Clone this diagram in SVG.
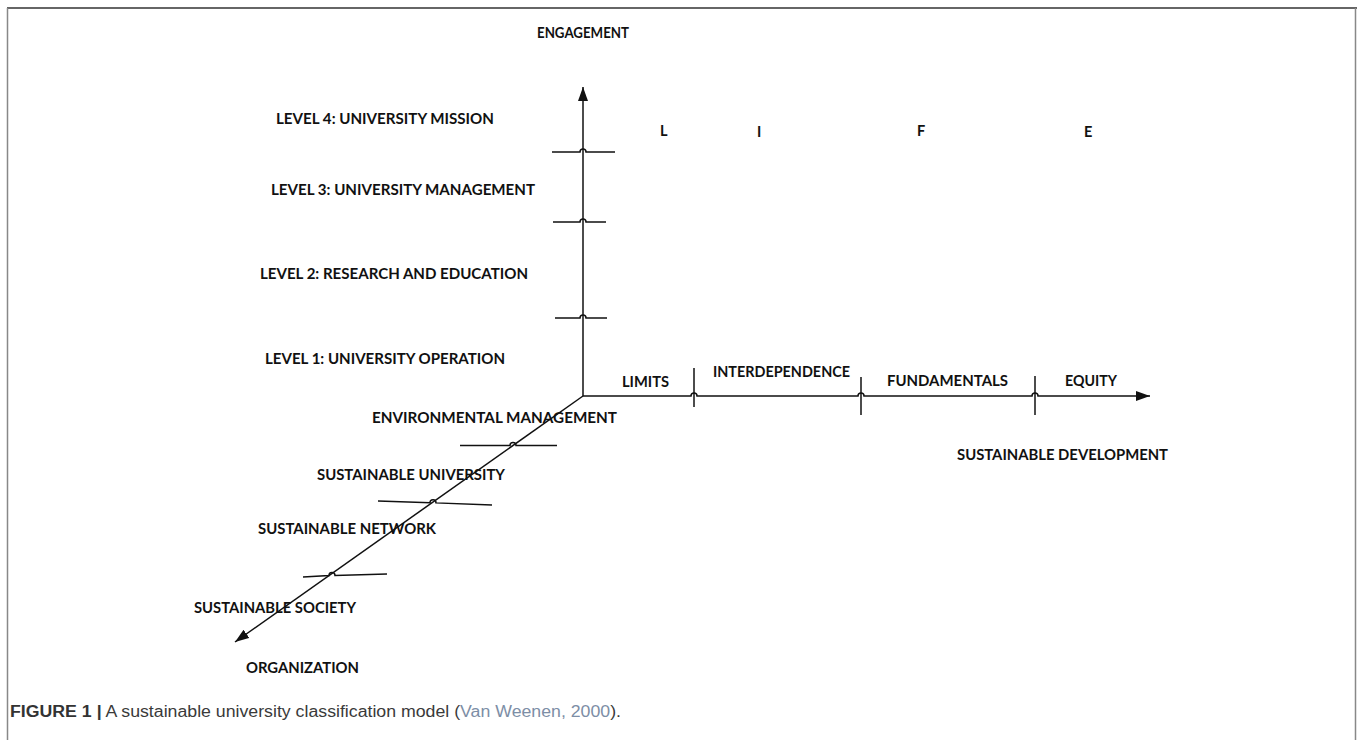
<svg xmlns="http://www.w3.org/2000/svg" width="1357" height="740" viewBox="0 0 1357 740">
  <style>
    .lbl { font-family: Lato, "Open Sans", "Liberation Sans", sans-serif; font-weight: 700; font-size: 14.5px; fill: #111; }
    .ax { fill: none; stroke: #111; stroke-width: 1.5; }
    .cap { font-family: "Liberation Sans", Arial, sans-serif; font-size: 16px; fill: #3a3a3a; }
    .cap-b { font-weight: 700; fill: #333; }
    .cap-ref { fill: #7d8ea6; }
  </style>
  <defs>
    <marker id="arrow" markerUnits="userSpaceOnUse" markerWidth="16" markerHeight="12" refX="14" refY="5" orient="auto">
      <path d="M0,0 L14,5 L0,10 z" fill="#111"/>
    </marker>
  </defs>

  <rect width="1357" height="740" fill="#fff"/>

  <!-- frame -->
  <line x1="7" y1="8" x2="1357" y2="8" stroke="#333" stroke-width="1.5"/>
  <line x1="7.5" y1="8" x2="7.5" y2="740" stroke="#888" stroke-width="1.5"/>
  <line x1="1355.5" y1="8" x2="1355.5" y2="740" stroke="#888" stroke-width="1.5"/>

  <!-- axes, ticks and line hops -->
  <g id="connectors">
    <line class="ax" x1="583" y1="396" x2="583" y2="87" marker-end="url(#arrow)"/>
    <path class="ax" d="M552,152 H580 A3,3 0 0 1 586,152 H615"/>
    <path class="ax" d="M553,222 H580 A3,3 0 0 1 586,222 H606"/>
    <path class="ax" d="M555,318 H580 A3,3 0 0 1 586,318 H607"/>

    <path class="ax" d="M583,396 H691 A3,3 0 0 1 697,396 H858 A3,3 0 0 1 864,396 H1032 A3,3 0 0 1 1038,396 H1150" marker-end="url(#arrow)"/>
    <line class="ax" x1="694" y1="368" x2="694" y2="407"/>
    <line class="ax" x1="861" y1="377" x2="861" y2="415"/>
    <line class="ax" x1="1035" y1="376" x2="1035" y2="415"/>

    <line class="ax" x1="583" y1="396" x2="235" y2="642" marker-end="url(#arrow)"/>
    <path class="ax" d="M460,445.5 H510 A3,3 0 0 1 516,445.5 H557"/>
    <path class="ax" d="M378,501 L430,502.7 A3,3 0 0 1 436,502.9 L492,505"/>
    <path class="ax" d="M303,577 L329,575.6 A3,3 0 0 1 335,575.4 L387,574"/>
  </g>

  <!-- engagement axis -->
  <g id="engagement">
    <text class="lbl" x="537" y="38" textLength="92" lengthAdjust="spacingAndGlyphs">ENGAGEMENT</text>
  </g>
  <g id="level4"><text class="lbl" x="276" y="124" textLength="218" lengthAdjust="spacingAndGlyphs">LEVEL 4: UNIVERSITY MISSION</text></g>
  <g id="level3"><text class="lbl" x="271" y="195" textLength="264" lengthAdjust="spacingAndGlyphs">LEVEL 3: UNIVERSITY MANAGEMENT</text></g>
  <g id="level2"><text class="lbl" x="260" y="279" textLength="268" lengthAdjust="spacingAndGlyphs">LEVEL 2: RESEARCH AND EDUCATION</text></g>
  <g id="level1"><text class="lbl" x="265" y="364" textLength="240" lengthAdjust="spacingAndGlyphs">LEVEL 1: UNIVERSITY OPERATION</text></g>

  <!-- LIFE initials -->
  <g id="life">
    <text class="lbl" x="660" y="136">L</text>
    <text class="lbl" x="757" y="137">I</text>
    <text class="lbl" x="917" y="136">F</text>
    <text class="lbl" x="1084" y="137">E</text>
  </g>

  <!-- sustainable development axis -->
  <g id="limits"><text class="lbl" x="622" y="387" textLength="47" lengthAdjust="spacingAndGlyphs">LIMITS</text></g>
  <g id="interdependence"><text class="lbl" x="713" y="377" textLength="137" lengthAdjust="spacingAndGlyphs">INTERDEPENDENCE</text></g>
  <g id="fundamentals"><text class="lbl" x="887" y="386" textLength="121" lengthAdjust="spacingAndGlyphs">FUNDAMENTALS</text></g>
  <g id="equity"><text class="lbl" x="1065" y="386" textLength="52" lengthAdjust="spacingAndGlyphs">EQUITY</text></g>
  <g id="sustainable-development"><text class="lbl" x="957" y="460" textLength="211" lengthAdjust="spacingAndGlyphs">SUSTAINABLE DEVELOPMENT</text></g>

  <!-- organization axis -->
  <g id="environmental-management"><text class="lbl" x="372" y="423" textLength="245" lengthAdjust="spacingAndGlyphs">ENVIRONMENTAL MANAGEMENT</text></g>
  <g id="sustainable-university"><text class="lbl" x="317" y="480" textLength="188" lengthAdjust="spacingAndGlyphs">SUSTAINABLE UNIVERSITY</text></g>
  <g id="sustainable-network"><text class="lbl" x="258" y="534" textLength="178" lengthAdjust="spacingAndGlyphs">SUSTAINABLE NETWORK</text></g>
  <g id="sustainable-society"><text class="lbl" x="194" y="613" textLength="162" lengthAdjust="spacingAndGlyphs">SUSTAINABLE SOCIETY</text></g>
  <g id="organization"><text class="lbl" x="246" y="673" textLength="113" lengthAdjust="spacingAndGlyphs">ORGANIZATION</text></g>

  <!-- caption -->
  <text class="cap" x="10" y="717" textLength="611" lengthAdjust="spacingAndGlyphs"><tspan class="cap-b">FIGURE 1 |</tspan> A sustainable university classification model (<tspan class="cap-ref">Van Weenen, 2000</tspan>).</text>
</svg>
